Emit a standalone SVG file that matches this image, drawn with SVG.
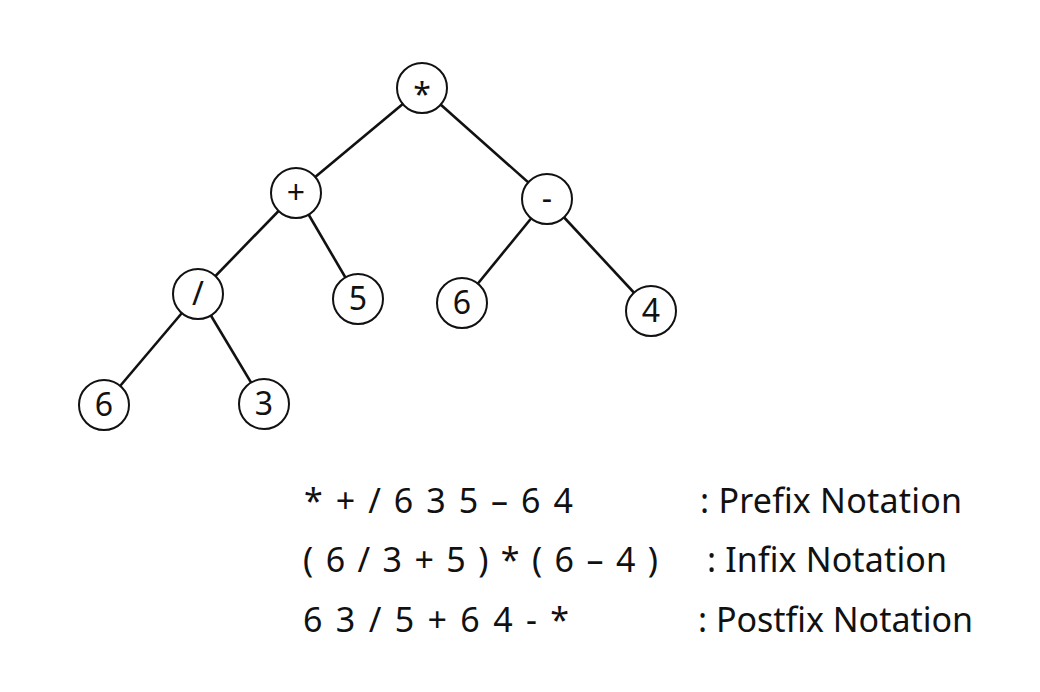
<svg xmlns="http://www.w3.org/2000/svg" width="1040" height="692" viewBox="0 0 1040 692">
<style>
.edge{stroke:#111;stroke-width:2.6;fill:none}
.node circle{fill:#fff;stroke:#111;stroke-width:2}
.node text{font-family:"Noto Sans","Liberation Sans",sans-serif;font-size:32px;fill:#111;text-anchor:middle}
.expr{font-family:"Noto Sans","Liberation Sans",sans-serif;font-size:34px;fill:#111}
</style>
<rect width="1040" height="692" fill="#fff"/>
<g id="connectors">
<line class="edge" x1="422" y1="88" x2="296" y2="193"/>
<line class="edge" x1="422" y1="88" x2="547" y2="199"/>
<line class="edge" x1="296" y1="193" x2="198" y2="294"/>
<line class="edge" x1="296" y1="193" x2="358" y2="299"/>
<line class="edge" x1="547" y1="199" x2="462" y2="303"/>
<line class="edge" x1="547" y1="199" x2="651" y2="311"/>
<line class="edge" x1="198" y1="294" x2="104" y2="405"/>
<line class="edge" x1="198" y1="294" x2="264" y2="404"/>
</g>
<g id="n-mul" class="node"><circle cx="422" cy="88" r="25"/><text x="422" y="106">*</text></g>
<g id="n-plus" class="node"><circle cx="296" cy="193" r="25"/><text x="296" y="204">+</text></g>
<g id="n-minus" class="node"><circle cx="547" cy="199" r="25"/><text x="547" y="210">-</text></g>
<g id="n-div" class="node"><circle cx="198" cy="294" r="25"/><text x="198" y="305">/</text></g>
<g id="n-5" class="node"><circle cx="358" cy="299" r="25"/><text x="358" y="310">5</text></g>
<g id="n-6a" class="node"><circle cx="462" cy="303" r="25"/><text x="462" y="314">6</text></g>
<g id="n-4" class="node"><circle cx="651" cy="311" r="25"/><text x="651" y="322">4</text></g>
<g id="n-6b" class="node"><circle cx="104" cy="405" r="25"/><text x="104" y="416">6</text></g>
<g id="n-3" class="node"><circle cx="264" cy="404" r="25"/><text x="264" y="415">3</text></g>
<g id="notation">
<text class="expr" x="304" y="513" textLength="269" lengthAdjust="spacing">* + / 6 3 5 – 6 4</text>
<text class="expr" x="700" y="513" textLength="262" lengthAdjust="spacing">: Prefix Notation</text>
<text class="expr" x="303" y="572" textLength="355" lengthAdjust="spacing">( 6 / 3 + 5 ) * ( 6 – 4 )</text>
<text class="expr" x="707" y="572" textLength="240" lengthAdjust="spacing">: Infix Notation</text>
<text class="expr" x="303" y="632" textLength="266" lengthAdjust="spacing">6 3 / 5 + 6 4 - *</text>
<text class="expr" x="698" y="632" textLength="275" lengthAdjust="spacing">: Postfix Notation</text>
</g>
</svg>
